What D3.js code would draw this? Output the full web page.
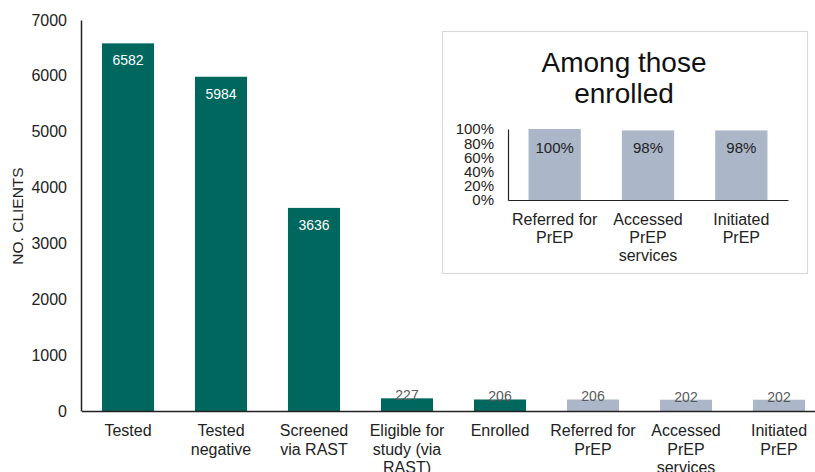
<!DOCTYPE html>
<html><head><meta charset="utf-8">
<script src="https://cdn.jsdelivr.net/npm/d3@7"></script>
<style>body{margin:0;background:#fff}svg{display:block;font-family:"Liberation Sans",Arial,sans-serif}</style>
</head><body><svg id="c" width="815" height="472"></svg>
<script>
const categories = ["Tested","Tested negative","Screened via RAST","Eligible for study (via RAST)","Enrolled","Referred for PrEP","Accessed PrEP services","Initiated PrEP"];
const categoryLines = [["Tested"],["Tested","negative"],["Screened","via RAST"],["Eligible for","study (via","RAST)"],["Enrolled"],["Referred for","PrEP"],["Accessed","PrEP","services"],["Initiated","PrEP"]];
const values = [6582,5984,3636,227,206,206,202,202];
const groups = ["a","a","a","a","a","b","b","b"];
const yTicks = [0,1000,2000,3000,4000,5000,6000,7000];
const insetCategories = ["Referred for PrEP","Accessed PrEP services","Initiated PrEP"];
const insetLines = [["Referred for","PrEP"],["Accessed","PrEP","services"],["Initiated","PrEP"]];
const insetValues = [100,98,98];
const insetTicks = [0,20,40,60,80,100];

const svg = d3.select("#c");
const teal = "#00675f", grey = "#abb6c8";
const FF = "Liberation Sans, Arial, sans-serif";

const x = d3.scaleBand().domain(categories).range([81.5, 825.5]).paddingInner(0.44).paddingOuter(0.22);
const y = d3.scaleLinear().domain([0,7000]).range([411,20]);

svg.selectAll("rect.m").data(values).join("rect").attr("class","m")
  .attr("x",(d,i)=>x(categories[i])).attr("width",x.bandwidth())
  .attr("y",d=>y(d)).attr("height",d=>y(0)-y(d))
  .attr("fill",(d,i)=>groups[i]==="a"?teal:grey);

svg.selectAll("text.v").data(values).join("text").attr("class","v")
  .attr("x",(d,i)=>x(categories[i])+x.bandwidth()/2)
  .attr("y",d=> d>1000 ? y(d)+22 : y(d)+2)
  .attr("text-anchor","middle").attr("font-size",14)
  .attr("fill",d=>d>1000?"#fff":"#595959").text(d=>d);

const ya = svg.append("g").attr("transform","translate(81,0)")
  .call(d3.axisLeft(y).tickValues(yTicks).tickSize(0).tickPadding(14).tickFormat(d3.format("d")));
ya.select(".domain").attr("stroke","#222").attr("stroke-width",1.5);
ya.selectAll("text").attr("font-size",16).attr("fill","#222").attr("font-family",FF);

const xa = svg.append("g").attr("transform","translate(0,411)")
  .call(d3.axisBottom(x).tickSize(0).tickFormat(""));
xa.select(".domain").attr("stroke","#222").attr("stroke-width",1.5);
xa.selectAll(".tick").each(function(d,i){
  const t = d3.select(this).append("text").attr("text-anchor","middle").attr("font-size",16)
    .attr("fill","#222").attr("font-family",FF);
  categoryLines[i].forEach((l,j)=>t.append("tspan").attr("x",0).attr("y",25+j*18.5).text(l));
});

svg.append("text").attr("transform","translate(23,216) rotate(-90)").attr("text-anchor","middle")
  .attr("font-size",15.5).attr("fill","#222").text("NO. CLIENTS");

// inset
svg.append("rect").attr("x",442.5).attr("y",31.5).attr("width",365).attr("height",242)
  .attr("fill","#fff").attr("stroke","#d9d9d9").attr("stroke-width",1.2);
const title = svg.append("text").attr("text-anchor","middle").attr("font-size",28).attr("fill","#111");
title.append("tspan").attr("x",624).attr("y",72).text("Among those");
title.append("tspan").attr("x",624).attr("y",103).text("enrolled");

const xi = d3.scaleBand().domain(insetCategories).range([508,788]).paddingInner(0.44).paddingOuter(0.22);
const yi = d3.scaleLinear().domain([0,100]).range([200,129]);
svg.selectAll("rect.i").data(insetValues).join("rect").attr("class","i")
  .attr("x",(d,i)=>xi(insetCategories[i])).attr("width",xi.bandwidth())
  .attr("y",d=>yi(d)).attr("height",d=>yi(0)-yi(d)).attr("fill",grey);
svg.selectAll("text.iv").data(insetValues).join("text").attr("class","iv")
  .attr("x",(d,i)=>xi(insetCategories[i])+xi.bandwidth()/2).attr("y",153)
  .attr("text-anchor","middle").attr("font-size",15).attr("fill","#222").text(d=>d+"%");

const yia = svg.append("g").attr("transform","translate(508,0)")
  .call(d3.axisLeft(yi).tickValues(insetTicks).tickSize(0).tickPadding(14).tickFormat(d=>d+"%"));
yia.select(".domain").attr("stroke","#222").attr("stroke-width",1.2);
yia.selectAll("text").attr("font-size",15).attr("fill","#222").attr("font-family",FF);

const xia = svg.append("g").attr("transform","translate(0,200)")
  .call(d3.axisBottom(xi).tickSize(0).tickFormat(""));
xia.select(".domain").attr("stroke","#222").attr("stroke-width",1.2);
xia.selectAll(".tick").each(function(d,i){
  const t = d3.select(this).append("text").attr("text-anchor","middle").attr("font-size",16)
    .attr("fill","#222").attr("font-family",FF);
  insetLines[i].forEach((l,j)=>t.append("tspan").attr("x",0).attr("y",25+j*18).text(l));
});
</script></body></html>
